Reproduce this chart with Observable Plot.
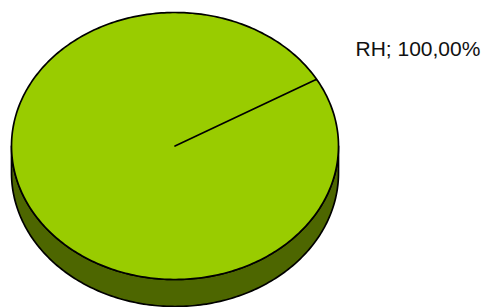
<!DOCTYPE html>
<html><head><meta charset="utf-8">
<script src="https://cdn.jsdelivr.net/npm/d3@7"></script>
<script src="https://cdn.jsdelivr.net/npm/@observablehq/plot@0.6"></script>
<style>html,body{margin:0;padding:0;background:#fff}</style>
</head><body><div id="chart"></div>
<script>
const categories = ["RH"];
const values = [100];
const topColors = ["#99CC00"];
const sideColors = ["#4D6600"];

const startAngle = Math.PI / 3;     // first slice border direction
const depth = 0.2022;                // 3D thickness in y data units
const step = Math.PI / 180;
const total = d3.sum(values);
const arcs = d3.pie().sort(null).startAngle(startAngle).endAngle(startAngle + 2 * Math.PI)(values);

const pt = (a, dz = 0) => ({x: Math.sin(a), y: Math.cos(a) - dz});
function sample(a0, a1) {
  const n = Math.max(2, Math.ceil(Math.abs(a1 - a0) / step));
  return d3.range(n + 1).map(k => a0 + (a1 - a0) * k / n);
}

// top faces
const tops = arcs.map((a, i) => [{x: 0, y: 0}, ...sample(a.startAngle, a.endAngle).map(t => pt(t)), {x: 0, y: 0}]);

// front sides (visible half: cos < 0)
const sides = arcs.map((a, i) => {
  const polys = [];
  for (const s of [-2 * Math.PI, 0, 2 * Math.PI]) {
    const lo = Math.max(a.startAngle, Math.PI / 2 + s);
    const hi = Math.min(a.endAngle, 3 * Math.PI / 2 + s);
    if (hi > lo) {
      const ts = sample(lo, hi);
      polys.push([...ts.map(t => pt(t)), ...ts.slice().reverse().map(t => pt(t, depth))]);
    }
  }
  return polys;
});

const labels = arcs.map((a, i) => {
  const la = a.startAngle - 0.066, r = 1.328;
  const pct = (values[i] / total * 100).toFixed(2).replace(".", ",");
  return {x: Math.sin(la) * r, y: Math.cos(la) * r, text: `${categories[i]}; ${pct}%`};
});

const marks = [];
sides.forEach((polys, i) => polys.forEach(p => marks.push(
  Plot.line([...p, p[0]], {x: "x", y: "y", fill: sideColors[i], stroke: "#000", strokeWidth: 1.7, curve: "linear"})
)));
tops.forEach((p, i) => marks.push(
  Plot.line(p, {x: "x", y: "y", fill: topColors[i], stroke: "#000", strokeWidth: 1.7, curve: "linear"})
));
marks.push(Plot.text(labels, {x: "x", y: "y", text: "text", textAnchor: "start", lineAnchor: "middle",
  dy: 2, fontSize: 21, fill: "#111", fontFamily: "Liberation Sans, Arial, sans-serif"}));

const chart = Plot.plot({
  width: 486, height: 307,
  margin: 0,
  x: {domain: [-1, 1], range: [11, 338], axis: null},
  y: {domain: [-1, 1], range: [279, 12], axis: null},
  style: {background: "#fff", overflow: "visible"},
  marks
});
document.getElementById("chart").append(chart);
</script>
</body></html>
